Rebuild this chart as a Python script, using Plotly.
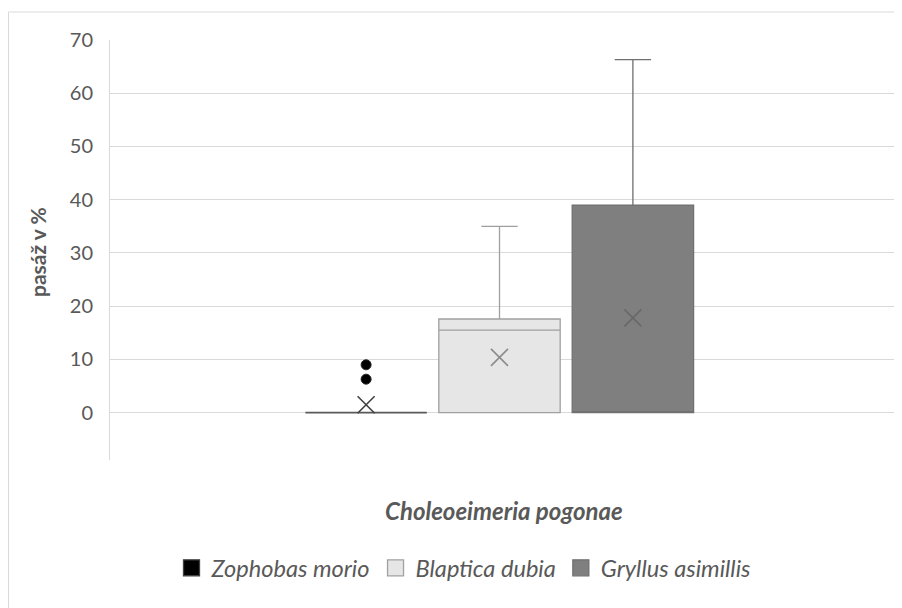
import plotly.graph_objects as go

species = ["Zophobas morio", "Blaptica dubia", "Gryllus asimillis"]
q1 = [0.0, 0.0, 0.0]
median = [0.0, 15.5, 0.0]
q3 = [0.0, 17.6, 39.0]
lower = [0.0, 0.0, 0.0]
upper = [0.0, 35.0, 66.3]
means = [1.5, 10.4, 17.8]
outlier_species = ["Zophobas morio", "Zophobas morio"]
outlier_values = [9.0, 6.3]
y_ticks = [0, 10, 20, 30, 40, 50, 60, 70]

fills = ["#000000", "#e6e6e6", "#7f7f7f"]
lines = ["#595959", "#a0a0a0", "#707070"]
mean_cols = ["#404040", "#8c8c8c", "#686868"]

FONT = "Lato"
TXT = "#595959"

fig = go.Figure()
for i, s in enumerate(species):
    fig.add_trace(go.Box(
        x=[s], q1=[q1[i]], median=[median[i]], q3=[q3[i]],
        lowerfence=[lower[i]], upperfence=[upper[i]],
        name=s, width=0.91, whiskerwidth=0.3,
        fillcolor=fills[i], line=dict(color=lines[i], width=1.8 if i == 0 else 1.3),
        boxpoints=False, showlegend=False,
    ))

fig.add_trace(go.Scatter(
    x=species, y=means, mode="markers", showlegend=False,
    marker=dict(symbol="x-thin-open", size=17, color=mean_cols,
                line=dict(color=mean_cols, width=1.6)),
))
fig.add_trace(go.Scatter(
    x=outlier_species, y=outlier_values, mode="markers", showlegend=False,
    marker=dict(symbol="circle", size=10, color="#000000",
                line=dict(color="#262626", width=1)),
))

# legend entries (square swatches like the reference)
for i, s in enumerate(species):
    fig.add_trace(go.Scatter(
        x=[None], y=[None], mode="markers", name=s, showlegend=True,
        marker=dict(symbol="square", size=16, color=fills[i],
                    line=dict(color=lines[i] if i else "#404040", width=1.3)),
    ))

# body margin of the page is 8px: the figure sits 8px right/down
OFF = 8
W, H = 894, 600
PL, PR, PT, PB = 110, 897, 40, 460  # plot area in page pixels
L, R, T, B = PL - OFF, W - (PR - OFF), PT - OFF, H - (PB - OFF)
PW, PH = PR - PL, PB - PT

def px(x):
    return (x - PL) / PW

def py(y):
    return (PB - y) / PH

fig.update_layout(
    width=W, height=H,
    margin=dict(l=L, r=R, t=T, b=B, pad=0),
    paper_bgcolor="white", plot_bgcolor="white",
    font=dict(family=FONT, color=TXT, size=20),
    xaxis=dict(type="category", categoryarray=species, range=[-1.92, 3.98],
               showticklabels=False, showgrid=False, zeroline=False,
               showline=False, ticks=""),
    yaxis=dict(range=[-8.88, 70], tickvals=y_ticks, showgrid=True,
               gridcolor="#d9d9d9", gridwidth=1, zeroline=False,
               showline=True, linecolor="#d9d9d9", linewidth=1,
               ticks="", ticklabelstandoff=12,
               tickfont=dict(family=FONT, size=20, color=TXT)),
    legend=dict(orientation="h", x=px(464), xanchor="center",
                y=py(568), yanchor="middle",
                font=dict(family=FONT, size=23.6, color=TXT, style="italic"),
                itemwidth=30, tracegroupgap=0, bgcolor="rgba(0,0,0,0)"),
    showlegend=True,
    annotations=[
        dict(text="<b><i>Choleoeimeria pogonae</i></b>", xref="paper", yref="paper",
             x=px(504), y=py(510), showarrow=False, xanchor="center", yanchor="middle",
             font=dict(family=FONT, size=24, color=TXT)),
        dict(text="<b>pasáž v %</b>", xref="paper", yref="paper",
             x=px(37), y=py(252), showarrow=False, textangle=-90,
             xanchor="center", yanchor="middle",
             font=dict(family=FONT, size=21, color=TXT)),
    ],
    shapes=[
        dict(type="rect", xref="paper", yref="paper",
             x0=px(8.5), x1=px(920), y0=py(640), y1=py(12),
             line=dict(color="#d9d9d9", width=1), fillcolor="rgba(0,0,0,0)",
             layer="below"),
    ],
)

fig.write_html("out.html")
